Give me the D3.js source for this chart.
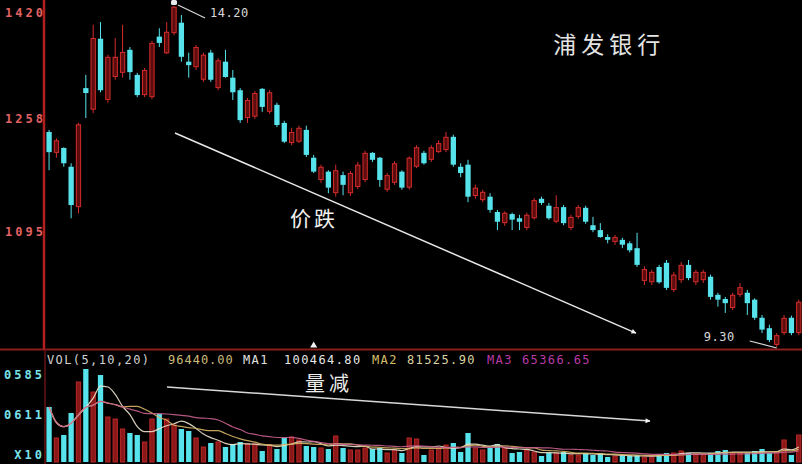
<!DOCTYPE html>
<html><head><meta charset="utf-8">
<script src="https://cdn.jsdelivr.net/npm/d3@7/dist/d3.min.js"></script>
<style>html,body{margin:0;padding:0;background:#000;overflow:hidden}svg{display:block}</style>
</head><body>
<svg id="c" width="802" height="464"></svg>
<script>
// ---------- DATA ----------
const openP=[12.39,12.09,12.16,11.89,11.31,13.02,12.71,13.73,12.85,13.18,
13.24,13.57,13.21,12.92,12.89,13.76,13.52,13.81,13.96,13.40,
13.32,13.14,13.53,13.02,13.40,13.17,12.99,12.59,12.61,13.01,
12.68,12.78,12.52,12.23,12.25,12.42,12.02,11.70,11.82,11.51,
11.77,11.51,11.60,11.70,12.09,12.02,11.56,11.66,11.82,11.59,
11.89,12.09,11.99,12.10,12.13,12.32,11.89,11.92,11.47,11.41,
11.46,11.24,11.08,11.21,11.15,11.01,11.15,11.43,11.33,11.10,
11.31,11.01,11.17,11.30,11.05,10.98,10.88,10.81,10.84,10.79,
10.72,10.25,10.23,10.45,10.51,10.12,10.26,10.48,10.23,10.26,
10.31,10.05,9.99,9.86,10.05,10.08,9.98,9.72,9.57,9.33,
9.50,9.72,9.50];
const highP=[12.42,12.30,12.17,11.94,12.52,13.21,13.93,13.97,13.50,13.74,
13.93,13.61,13.24,13.31,13.70,13.88,13.97,14.20,14.07,13.53,
13.64,13.53,13.57,13.45,13.57,13.28,13.02,12.88,12.98,13.02,
12.99,12.81,12.55,12.45,12.48,12.48,12.06,11.92,11.84,11.92,
11.82,11.83,11.96,12.12,12.10,12.03,11.80,11.97,11.84,12.04,
12.20,12.12,12.20,12.27,12.39,12.35,11.94,11.99,11.63,11.56,
11.51,11.27,11.25,11.23,11.20,11.23,11.44,11.46,11.37,11.48,
11.34,11.20,11.34,11.33,11.17,11.08,10.92,10.91,10.87,10.82,
10.94,10.46,10.41,10.48,10.55,10.38,10.52,10.55,10.41,10.41,
10.34,10.08,10.02,10.08,10.22,10.12,10.00,9.76,9.62,9.50,
9.76,9.75,9.98];
const lowP=[11.84,12.02,11.89,11.15,11.22,12.59,12.66,12.96,12.81,13.14,
13.17,13.14,12.89,12.89,12.86,13.61,13.51,13.78,13.40,13.17,
13.28,13.11,13.11,12.99,13.17,12.85,12.52,12.52,12.58,12.68,
12.65,12.46,12.23,12.20,12.23,12.03,11.80,11.66,11.51,11.46,
11.48,11.47,11.57,11.67,11.96,11.60,11.53,11.63,11.56,11.56,
11.87,11.92,11.96,12.09,12.10,11.89,11.74,11.38,11.43,11.38,
11.23,10.98,11.04,10.98,10.98,10.98,11.13,11.34,11.13,11.08,
11.05,10.98,11.14,11.07,10.95,10.87,10.79,10.77,10.72,10.66,
10.45,10.19,10.19,10.21,10.12,10.09,10.22,10.26,10.19,10.22,
9.98,9.88,9.79,9.83,10.02,9.76,9.69,9.50,9.37,9.30,
9.47,9.47,9.47];
const closeP=[12.10,12.27,11.94,11.34,12.50,12.95,13.74,12.99,13.47,13.47,
13.54,13.25,12.92,13.28,13.67,13.67,13.83,14.19,13.47,13.35,
13.61,13.50,13.14,13.42,13.18,12.96,12.56,12.85,12.95,12.75,
12.96,12.49,12.25,12.39,12.45,12.06,11.82,11.89,11.59,11.84,
11.63,11.80,11.92,12.09,11.99,11.70,11.77,11.94,11.59,12.02,
12.17,11.94,12.17,12.23,12.32,11.92,11.80,11.46,11.59,11.53,
11.27,11.10,11.23,11.13,11.10,11.20,11.41,11.37,11.15,11.31,
11.08,11.17,11.31,11.10,10.98,10.88,10.84,10.88,10.77,10.69,
10.48,10.42,10.38,10.23,10.15,10.34,10.48,10.29,10.38,10.38,
10.02,9.98,9.93,10.05,10.16,9.93,9.72,9.55,9.40,9.47,
9.72,9.50,9.95];
const volumes=[25660,11200,12600,22860,37320,43380,32660,40580,20990,20060,
15390,13530,12600,9330,20060,22390,20060,17260,15390,14460,
11200,7000,8860,9330,7000,8400,9330,8400,8400,5130,
7930,6060,11200,11660,10260,7460,7000,6530,6060,12130,
6530,5600,5600,6530,6060,6530,4200,5600,4200,11200,
10730,3270,5600,6530,7930,8860,4670,13530,6530,5600,
6530,8400,6530,4200,4670,5600,4670,2800,4200,4200,
4670,3270,3270,4200,3270,4200,2330,2800,2800,2800,
3270,2330,2330,3730,4200,4200,5130,4200,3730,3730,
4200,5130,5600,4200,4200,4200,5130,6060,4200,4670,
10260,3270,12600];
const priceTicks=[14.20,12.58,10.95];
const priceTickLabels=["1420","1258","1095"];
const volTicks=[40585,20611];
const volTickLabels=["0585","0611"];
const volUnitLabel="X10";
const maPeriods=[5,10,20];
const legendTexts=["VOL(5,10,20)","96440.00","MA1","100464.80","MA2","81525.90","MA3","65366.65"];
const titleText="浦发银行";
const priceNote="价跌";
const volNote="量减";
// annotation anchors in data space: [candle index, value]
const priceArrow=[[17.13,12.375],[79.85,9.50]];
const volArrow=[[16.04,34990],[81.76,19130]];
const priceNotePos=[36.05,11.15];
const volNotePos=[38.09,36390];
const titlePos=[76.2,13.64];
const cursorIndex=36;

// ---------- LAYOUT ----------
const W=802,H=464;
const N=openP.length;
const priceTop=6, priceBottom=347, sepY=349.5, volBottom=462, volTopPx=375;
const RED="#d42c2c", REDFILL="#5c0c0c", CYAN="#57e3ec";
const svg=d3.select("#c");
svg.append("rect").attr("width",W).attr("height",H).attr("fill","#000");

const x=d3.scaleBand().domain(d3.range(N)).range([45.4,45.4+N*7.35]).paddingInner(0.28).paddingOuter(0.14);
const bw=x.bandwidth();
const xc=i=>x(i)+bw/2;
const xLin=d3.scaleLinear().domain([0,N-1]).range([xc(0),xc(N-1)]);
const y=d3.scaleLinear().domain([d3.min(lowP),d3.max(highP)]).range([priceBottom,priceTop]);
const yv=d3.scaleLinear().domain([0,volTicks[0]]).range([volBottom,volTopPx]);

const data=d3.range(N).map(i=>({i,o:openP[i],h:highP[i],l:lowP[i],c:closeP[i],v:volumes[i],up:closeP[i]>=openP[i]}));

// frame lines
svg.append("line").attr("x1",0).attr("x2",W).attr("y1",sepY).attr("y2",sepY).attr("stroke","#8e1c1c").attr("stroke-width",2);
svg.append("line").attr("x1",44).attr("x2",44).attr("y1",0).attr("y2",sepY).attr("stroke","#b02020").attr("stroke-width",2.5);
svg.append("line").attr("x1",45).attr("x2",45).attr("y1",sepY).attr("y2",H).attr("stroke","#6a1414").attr("stroke-width",1.5);

// candles
const cg=svg.append("g");
cg.selectAll("line.w").data(data).join("line").attr("class","w")
  .attr("x1",d=>xc(d.i)).attr("x2",d=>xc(d.i))
  .attr("y1",d=>y(d.h)).attr("y2",d=>y(d.l))
  .attr("stroke",d=>d.up?RED:CYAN).attr("stroke-width",1);
cg.selectAll("rect.b").data(data).join("rect").attr("class","b")
  .attr("x",d=>x(d.i)+(d.up?0.5:0))
  .attr("width",d=>d.up?bw-1:bw)
  .attr("y",d=>y(Math.max(d.o,d.c))+(d.up?0.5:0))
  .attr("height",d=>Math.max(1,Math.abs(y(d.o)-y(d.c))-(d.up?1:0)))
  .attr("fill",d=>d.up?REDFILL:CYAN)
  .attr("stroke",d=>d.up?RED:"none").attr("stroke-width",1);

// volume bars
const vg=svg.append("g");
vg.selectAll("rect").data(data).join("rect")
  .attr("x",d=>x(d.i)+(d.up?0.5:0))
  .attr("width",d=>d.up?bw-1:bw)
  .attr("y",d=>yv(d.v))
  .attr("height",d=>yv(0)-yv(d.v))
  .attr("fill",d=>d.up?"#8a1818":CYAN)
  .attr("stroke",d=>d.up?"#b82626":"none").attr("stroke-width",1);

// volume moving averages
const maColors=["#eee4cc","#d6b466","#c8608e"];
maPeriods.forEach((p,k)=>{
  const ma=data.map(d=>({i:d.i,v:d3.mean(volumes.slice(Math.max(0,d.i-p+1),d.i+1))}));
  svg.append("path").datum(ma)
    .attr("d",d3.line().x(d=>xc(d.i)).y(d=>yv(d.v)).curve(d3.curveMonotoneX))
    .attr("fill","none").attr("stroke",maColors[k]).attr("stroke-width",1.2).attr("opacity",0.9);
});

// price axis labels
const pa=svg.append("g").attr("transform","translate(46,0)")
  .call(d3.axisLeft(y).tickValues(priceTicks).tickFormat((d,i)=>priceTickLabels[i]).tickSize(0).tickPadding(0));
pa.select(".domain").remove();
pa.selectAll(".tick").attr("transform",d=>`translate(0,${Math.max(y(d),12.5)})`);
pa.selectAll("text").attr("fill","#e26262").attr("font-family","DejaVu Sans Mono").attr("font-size",12)
  .attr("font-weight","bold").attr("letter-spacing","3px").attr("dy","0.35em");

// volume axis labels
const va=svg.append("g").attr("transform","translate(45,0)")
  .call(d3.axisLeft(yv).tickValues(volTicks).tickFormat((d,i)=>volTickLabels[i]).tickSize(0).tickPadding(0));
va.select(".domain").remove();
va.selectAll(".tick").attr("transform",(d,i)=>`translate(0,${yv(d)-(i===1?3:0)})`);
va.selectAll("text").attr("fill","#7ae2ea").attr("font-family","DejaVu Sans Mono").attr("font-size",12)
  .attr("font-weight","bold").attr("letter-spacing","3px").attr("dy","0.35em");
svg.append("text").attr("x",45).attr("y",yv(0)-7).attr("dy","0.35em").attr("text-anchor","end")
  .attr("fill","#7ae2ea").attr("font-family","DejaVu Sans Mono").attr("font-size",12)
  .attr("font-weight","bold").attr("letter-spacing","3px").text(volUnitLabel);

// legend
const legendX=[47,168,243,284,372,407,487,522];
const legendColors=["#d2d2d2","#cdbb7a","#e0e0e0","#e6e6e6","#d6bf6a","#ddd2a0","#b83aa6","#b83aa6"];
svg.append("g").selectAll("text").data(legendTexts).join("text")
  .attr("x",(d,i)=>legendX[i]).attr("y",360).attr("dy","0.35em")
  .attr("fill",(d,i)=>legendColors[i]).attr("font-family","DejaVu Sans Mono").attr("font-size",12)
  .attr("letter-spacing",(d,i)=>i===1?"1px":"1.4px").text(d=>d);

// cursor marker on separator
svg.append("path").attr("d",d3.symbol(d3.symbolTriangle,22)())
  .attr("transform",`translate(${xc(cursorIndex)},${sepY-4})`).attr("fill","#f0f0f0");

// high / low labels
const hiI=d3.maxIndex(highP), loI=d3.minIndex(lowP);
const hx=xc(hiI), hy=y(highP[hiI]);
svg.append("rect").attr("x",hx-3).attr("y",0).attr("width",6).attr("height",5).attr("rx",1.5).attr("fill","#e8e8e8");
svg.append("line").attr("x1",hx+4).attr("y1",hy-1).attr("x2",hx+31).attr("y2",hy+12).attr("stroke","#d8d8d8").attr("stroke-width",1.2);
svg.append("text").attr("x",hx+36).attr("y",hy+7).attr("dy","0.35em").attr("fill","#d8d8d8")
  .attr("font-family","DejaVu Sans Mono").attr("font-size",12).attr("letter-spacing","0.5px").text(highP[hiI].toFixed(2));
const lx=xc(loI), ly=y(lowP[loI]);
svg.append("line").attr("x1",lx-27).attr("y1",ly-6).attr("x2",lx).attr("y2",ly+1).attr("stroke","#d8d8d8").attr("stroke-width",1.2);
svg.append("text").attr("x",lx-42).attr("y",ly-10).attr("dy","0.35em").attr("text-anchor","end").attr("fill","#d8d8d8")
  .attr("font-family","DejaVu Sans Mono").attr("font-size",12).attr("letter-spacing","0.5px").text(lowP[loI].toFixed(2));

// arrows
const defs=svg.append("defs");
defs.append("marker").attr("id","ah").attr("viewBox","0 0 10 10").attr("refX",9).attr("refY",5)
  .attr("markerWidth",6).attr("markerHeight",5).attr("markerUnits","userSpaceOnUse").attr("orient","auto")
  .append("path").attr("d","M0,0L10,5L0,10z").attr("fill","#f0f0f0");
svg.append("line").attr("x1",xLin(priceArrow[0][0])).attr("y1",y(priceArrow[0][1]))
  .attr("x2",xLin(priceArrow[1][0])).attr("y2",y(priceArrow[1][1]))
  .attr("stroke","#e8e8e8").attr("stroke-width",1.5).attr("marker-end","url(#ah)");
svg.append("line").attr("x1",xLin(volArrow[0][0])).attr("y1",yv(volArrow[0][1]))
  .attr("x2",xLin(volArrow[1][0])).attr("y2",yv(volArrow[1][1]))
  .attr("stroke","#d8d8d8").attr("stroke-width",1.5).attr("marker-end","url(#ah)");

// text notes
const cjk="'Noto Sans CJK SC','Noto Sans',sans-serif";
svg.append("text").attr("x",xLin(priceNotePos[0])).attr("y",y(priceNotePos[1])).attr("dy","0.36em")
  .attr("text-anchor","middle").attr("fill","#f0f0f0").attr("font-family",cjk).attr("font-size",21)
  .attr("letter-spacing","3px").text(priceNote);
svg.append("text").attr("x",xLin(volNotePos[0])).attr("y",yv(volNotePos[1])).attr("dy","0.36em")
  .attr("text-anchor","middle").attr("fill","#eeeeee").attr("font-family",cjk).attr("font-size",20)
  .attr("letter-spacing","4px").text(volNote);
svg.append("text").attr("x",xLin(titlePos[0])).attr("y",y(titlePos[1])).attr("dy","0.36em")
  .attr("text-anchor","middle").attr("fill","#e4e4e4").attr("font-family",cjk).attr("font-size",23)
  .attr("letter-spacing","5px").text(titleText);
</script>
</body></html>
